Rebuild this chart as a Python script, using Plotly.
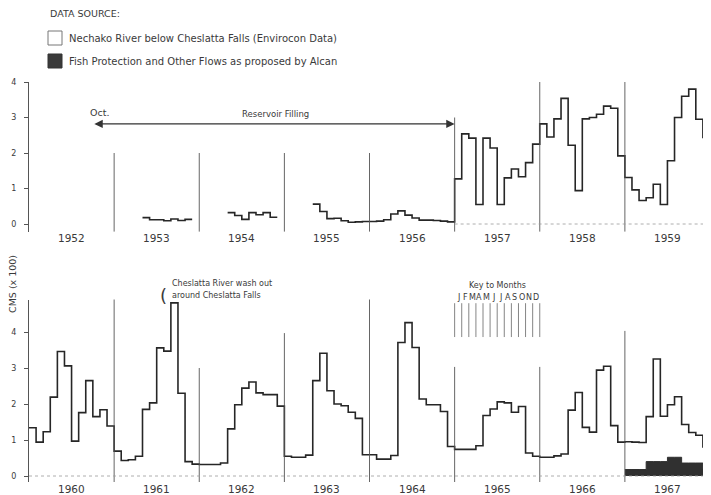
import plotly.graph_objects as go

# page body has an 8px default margin: the figure is sized to fit the rest of the window
OX, OY = 8, 8
W, H = 711 - OX, 495 - OY

# ---------------- data (x 100 CMS, monthly) ----------------
years_top = [1952, 1953, 1954, 1955, 1956, 1957, 1958, 1959]
years_bot = [1960, 1961, 1962, 1963, 1964, 1965, 1966, 1967]

flow_1953 = [0.18, 0.12, 0.12, 0.09, 0.14, 0.10, 0.13]          # May-Nov
flow_1954 = [0.32, 0.24, 0.13, 0.32, 0.26, 0.32, 0.19]          # May-Nov
flow_1955 = [0.56, 0.35, 0.15, 0.16, 0.09, 0.05, 0.06, 0.07]    # May-Dec
flow_1956 = [0.07, 0.08, 0.12, 0.28, 0.37, 0.25, 0.17, 0.11, 0.11, 0.10, 0.08, 0.06]
flow_1957 = [1.27, 2.54, 2.42, 0.55, 2.42, 2.14, 0.55, 1.30, 1.55, 1.33, 1.73, 2.25]
flow_1958 = [2.82, 2.45, 2.96, 3.54, 2.22, 0.94, 2.96, 3.00, 3.09, 3.32, 3.26, 1.92]
flow_1959 = [1.31, 0.96, 0.66, 0.74, 1.12, 0.55, 1.78, 3.00, 3.60, 3.80, 2.95, 2.44]
flow_1960 = [1.34, 0.94, 1.23, 2.19, 3.46, 3.06, 0.97, 1.76, 2.65, 1.65, 1.84, 1.39]
flow_1961 = [0.69, 0.43, 0.45, 0.55, 1.85, 2.03, 3.56, 3.47, 4.81, 2.30, 0.40, 0.33]
flow_1962 = [0.32, 0.32, 0.32, 0.36, 1.31, 1.98, 2.44, 2.61, 2.31, 2.26, 2.26, 1.94]
flow_1963 = [0.55, 0.52, 0.52, 0.58, 2.65, 3.41, 2.37, 2.00, 1.95, 1.77, 1.60, 0.59]
flow_1964 = [0.59, 0.47, 0.47, 0.57, 3.71, 4.26, 3.57, 2.14, 1.98, 1.98, 1.79, 0.82]
flow_1965 = [0.74, 0.74, 0.74, 0.84, 1.68, 1.86, 2.06, 2.03, 1.77, 1.93, 0.64, 0.55]
flow_1966 = [0.52, 0.52, 0.56, 0.61, 1.83, 2.32, 1.35, 1.22, 2.94, 3.05, 1.40, 0.94]
flow_1967 = [0.95, 0.94, 0.93, 1.65, 3.25, 1.66, 1.98, 2.20, 1.43, 1.21, 1.13, 0.81]
fish_1967 = [0.18, 0.18, 0.18, 0.40, 0.40, 0.40, 0.52, 0.52, 0.36, 0.36, 0.36, 0.20]

month_letters = ["J", "F", "M", "A", "M", "J", "J", "A", "S", "O", "N", "D"]
y_ticks = [0, 1, 2, 3, 4]

# year separator line tops (data units) for each panel
sep_top_years = [1953, 1954, 1955, 1956, 1957, 1958, 1959]
sep_top_heights = [2.0, 2.0, 2.0, 2.0, 3.0, 4.0, 4.0]
sep_bot_years = [1961, 1962, 1963, 1964, 1965, 1966, 1967]
sep_bot_heights = [4.95, 3.0, 3.97, 4.97, 3.03, 3.03, 4.03]

LINE = "#262626"
TXT = "#3a3a3a"
FONT = "DejaVu Sans"


def steps(blocks):
    xs, ys = [], []
    for yr, m0, vals in blocks:
        if xs:
            xs.append(None)
            ys.append(None)
        for i, v in enumerate(vals):
            xs.append(yr + (m0 + i) / 12.0)
            ys.append(v)
        xs.append(yr + (m0 + len(vals)) / 12.0)
        ys.append(vals[-1])
    return xs, ys


top_blocks = [
    (1953, 4, flow_1953),
    (1954, 4, flow_1954),
    (1955, 4, flow_1955 + flow_1956 + flow_1957 + flow_1958 + flow_1959),
]
bot_blocks = [
    (1960, 0, flow_1960 + flow_1961 + flow_1962 + flow_1963 + flow_1964
     + flow_1965 + flow_1966 + flow_1967),
]

xt, yt = steps(top_blocks)
xb, yb = steps(bot_blocks)
xf, yf = steps([(1967, 0, fish_1967)])


def px(x):
    return (x - OX) / W


def py(y):
    return 1 - (y - OY) / H


fig = go.Figure()
fig.add_trace(go.Scatter(x=xf, y=yf, mode="lines", line=dict(shape="hv", color="#303030", width=1),
                         fill="tozeroy", fillcolor="#303030", xaxis="x2", yaxis="y2",
                         showlegend=False, hoverinfo="skip"))
fig.add_trace(go.Scatter(x=xt, y=yt, mode="lines", line=dict(shape="hv", color=LINE, width=1.6),
                         xaxis="x", yaxis="y", showlegend=False, connectgaps=False))
fig.add_trace(go.Scatter(x=xb, y=yb, mode="lines", line=dict(shape="hv", color=LINE, width=1.6),
                         xaxis="x2", yaxis="y2", showlegend=False, cliponaxis=False))

# geometry
xdom = [px(29), min(1.0, px(710))]
top_rng = [-0.22, 4.0]
top_dom = [py(224 + 0.22 * 35.5), py(82)]
bot_rng = [-0.17, 4.9]
bot_dom = [py(476 + 0.17 * 36), py(476 - 4.9 * 36)]

axis_common = dict(showgrid=False, zeroline=False)
fig.update_layout(
    width=W, height=H, margin=dict(l=0, r=0, t=0, b=0),
    paper_bgcolor="white", plot_bgcolor="white",
    font=dict(family=FONT, color=TXT),
    xaxis=dict(domain=xdom, range=[1952, 1960], anchor="y", showline=False,
               showticklabels=False, ticks="", automargin=False, **axis_common),
    yaxis=dict(domain=top_dom, range=top_rng, anchor="x", showline=True, linecolor="#555",
               linewidth=1, tickvals=y_ticks, ticks="outside", ticklen=4, tickcolor="#555",
               ticklabelstandoff=6, tickfont=dict(size=8, color=TXT), automargin=False,
               **axis_common),
    xaxis2=dict(domain=xdom, range=[1960, 1968], anchor="y2", showline=False,
                showticklabels=False, ticks="", automargin=False, **axis_common),
    yaxis2=dict(domain=bot_dom, range=bot_rng, anchor="x2", showline=True, linecolor="#555",
                linewidth=1, tickvals=y_ticks, ticks="outside", ticklen=4, tickcolor="#555",
                ticklabelstandoff=6, tickfont=dict(size=8, color=TXT), automargin=False,
                **axis_common),
)

shapes = []
for yr, h in zip(sep_top_years, sep_top_heights):
    shapes.append(dict(type="line", xref="x", yref="y", x0=yr, x1=yr, y0=top_rng[0], y1=h,
                       line=dict(color="#555", width=0.9)))
for yr, h in zip(sep_bot_years, sep_bot_heights):
    shapes.append(dict(type="line", xref="x2", yref="y2", x0=yr, x1=yr, y0=bot_rng[0], y1=h,
                       line=dict(color="#555", width=0.9)))
# dotted baselines
shapes.append(dict(type="line", xref="x", yref="y", x0=1957, x1=1960, y0=0, y1=0,
                   line=dict(color="#999", width=0.8, dash="dot")))
shapes.append(dict(type="line", xref="x2", yref="y2", x0=1960, x1=1968, y0=0, y1=0,
                   line=dict(color="#999", width=0.8, dash="dot")))
# key to months ticks (month boundaries of 1965)
for k in range(13):
    shapes.append(dict(type="line", xref="x2", yref="y2", x0=1965 + k / 12, x1=1965 + k / 12,
                       y0=3.86, y1=4.8, line=dict(color="#666", width=0.8)))
# legend boxes
shapes.append(dict(type="rect", xref="paper", yref="paper", x0=px(48), x1=px(62),
                   y0=py(45), y1=py(31), line=dict(color="#777", width=1), fillcolor="white"))
shapes.append(dict(type="rect", xref="paper", yref="paper", x0=px(48), x1=px(62),
                   y0=py(68), y1=py(54), line=dict(color="#333", width=1), fillcolor="#3a3a3a"))

C = dict(xanchor="center", yanchor="middle", showarrow=False)
L = dict(xanchor="left", yanchor="middle", showarrow=False)

ann = []
# year labels
for yr in years_top:
    ann.append(dict(xref="x", yref="paper", x=yr + 0.5, y=py(238), text=str(yr),
                    font=dict(size=10.5, color=TXT), **C))
for yr in years_bot:
    ann.append(dict(xref="x2", yref="paper", x=yr + 0.5, y=py(489), text=str(yr),
                    font=dict(size=10.5, color=TXT), **C))
ann.append(dict(xref="paper", yref="paper", x=px(48), y=py(14), text="DATA SOURCE:",
                font=dict(size=9.5, color=TXT), **L))
ann.append(dict(xref="paper", yref="paper", x=px(67), y=py(38),
                text="Nechako River below Cheslatta Falls (Envirocon Data)",
                font=dict(size=10, color=TXT), **L))
ann.append(dict(xref="paper", yref="paper", x=px(67), y=py(61),
                text="Fish Protection and Other Flows as proposed by Alcan",
                font=dict(size=10, color=TXT), **L))
ann.append(dict(xref="paper", yref="paper", x=px(12), y=py(284), text="CMS (x 100)",
                textangle=-90, font=dict(size=9.5, color=TXT), **C))
# reservoir filling arrow
ann.append(dict(xref="x", yref="y", x=1957.0, y=2.82, axref="x", ayref="y", ax=1952.75, ay=2.82,
                text="", showarrow=True, arrowhead=2, arrowside="end+start", arrowsize=1.2,
                arrowwidth=1.4, arrowcolor="#333"))
ann.append(dict(xref="x", yref="y", x=1952.83, y=3.15, text="Oct.",
                font=dict(size=9.5, color=TXT), **C))
ann.append(dict(xref="x", yref="y", x=1954.9, y=3.1, text="Reservoir Filling",
                font=dict(size=8.5, color=TXT), **C))
# Cheslatta note
ann.append(dict(xref="paper", yref="paper", x=px(163), y=py(295), text="(",
                font=dict(size=18, color=TXT), **C))
ann.append(dict(xref="paper", yref="paper", x=px(170), y=py(283), text="Cheslatta River wash out",
                font=dict(size=8, color=TXT), **L))
ann.append(dict(xref="paper", yref="paper", x=px(170), y=py(295), text="around Cheslatta Falls",
                font=dict(size=8, color=TXT), **L))
# key to months
ann.append(dict(xref="x2", yref="paper", x=1965.5, y=py(285), text="Key to Months",
                font=dict(size=8, color=TXT), **C))
for i, m in enumerate(month_letters):
    ann.append(dict(xref="x2", yref="paper", x=1965 + (i + 0.5) / 12, y=py(297), text=m,
                    font=dict(size=8, color=TXT), **C))

fig.update_layout(shapes=shapes, annotations=ann)
fig.write_html("out.html")
